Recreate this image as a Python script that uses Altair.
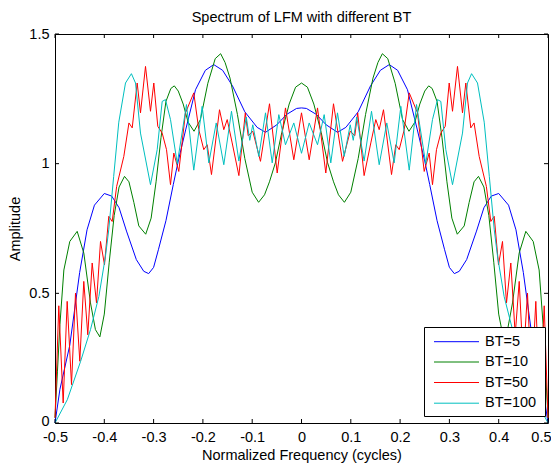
import altair as alt
import pandas as pd

# ---------------- data ----------------
series_names = ["BT=5", "BT=10", "BT=50", "BT=100"]
series_colors = ["#0000ff", "#008000", "#ff0000", "#00bfbf"]

bt5_x = [-0.5, -0.49, -0.47, -0.45, -0.435, -0.42, -0.40, -0.385, -0.37, -0.355, -0.335, -0.32, -0.31,
         -0.30, -0.29, -0.275, -0.26, -0.25, -0.235, -0.215, -0.195, -0.178, -0.16, -0.14, -0.115, -0.09,
         -0.073, -0.05, -0.03, -0.01, 0.0,
         0.01, 0.03, 0.05, 0.073, 0.09, 0.115, 0.14, 0.16, 0.178, 0.195, 0.215, 0.235, 0.25, 0.26, 0.275,
         0.29, 0.30, 0.31, 0.32, 0.335, 0.355, 0.37, 0.385, 0.40, 0.42, 0.435, 0.45, 0.47, 0.49, 0.5]
bt5_y = [0.0, 0.13, 0.30, 0.58, 0.745, 0.84, 0.885, 0.875, 0.83, 0.74, 0.63, 0.585, 0.576,
         0.60, 0.67, 0.78, 0.92, 1.01, 1.13, 1.285, 1.36, 1.382, 1.36, 1.30, 1.20, 1.14,
         1.121, 1.15, 1.19, 1.213, 1.215,
         1.213, 1.19, 1.15, 1.121, 1.14, 1.20, 1.30, 1.36, 1.382, 1.36, 1.285, 1.13, 1.01, 0.92, 0.78,
         0.67, 0.60, 0.576, 0.585, 0.63, 0.74, 0.83, 0.875, 0.885, 0.84, 0.745, 0.58, 0.30, 0.13, 0.0]

bt10_x = [-0.5, -0.495, -0.49, -0.482, -0.47, -0.455, -0.4415, -0.428, -0.418, -0.409, -0.40, -0.39,
          -0.38, -0.37, -0.359, -0.35, -0.34, -0.33, -0.316, -0.305, -0.295, -0.285, -0.275, -0.265,
          -0.258, -0.25, -0.24, -0.23, -0.218, -0.205, -0.19, -0.175, -0.164, -0.155, -0.145, -0.13,
          -0.115, -0.10, -0.087, -0.075, -0.065, -0.053, -0.04, -0.025, -0.012, 0.0,
          0.012, 0.025, 0.04, 0.053, 0.065, 0.075, 0.087, 0.10, 0.115, 0.13, 0.145, 0.155, 0.164,
          0.175, 0.19, 0.205, 0.218, 0.23, 0.24, 0.25, 0.258, 0.265, 0.275, 0.285, 0.295, 0.305,
          0.316, 0.33, 0.34, 0.35, 0.359, 0.37, 0.38, 0.39, 0.40, 0.409, 0.418, 0.428, 0.4415, 0.455,
          0.47, 0.482, 0.49, 0.495, 0.5]
bt10_y = [0.02, 0.2, 0.38, 0.59, 0.70, 0.739, 0.655, 0.463, 0.36, 0.332, 0.42, 0.62,
          0.80, 0.91, 0.951, 0.93, 0.85, 0.76, 0.728, 0.79, 0.93, 1.10, 1.24, 1.29,
          1.30, 1.28, 1.23, 1.16, 1.125, 1.17, 1.31, 1.405, 1.424, 1.39, 1.33, 1.19,
          1.02, 0.89, 0.851, 0.88, 0.93, 1.003, 1.12, 1.23, 1.295, 1.311,
          1.295, 1.23, 1.12, 1.003, 0.93, 0.88, 0.851, 0.89, 1.02, 1.19, 1.33, 1.39, 1.424,
          1.405, 1.31, 1.17, 1.125, 1.16, 1.23, 1.28, 1.30, 1.29, 1.24, 1.10, 0.93, 0.79,
          0.728, 0.76, 0.85, 0.93, 0.951, 0.91, 0.80, 0.62, 0.42, 0.332, 0.36, 0.463, 0.655, 0.739,
          0.70, 0.59, 0.38, 0.2, 0.02]

bt50_x = [-0.5, -0.4923, -0.4834, -0.4753, -0.4665, -0.4584, -0.4497, -0.4416, -0.4335, -0.4246,
          -0.4158, -0.4077, -0.3996, -0.3909, -0.384, -0.375, -0.3604, -0.350, -0.3434, -0.3333,
          -0.3266, -0.3164, -0.3063, -0.2996, -0.2915, -0.2826, -0.2738, -0.2657, -0.259, -0.2489,
          -0.2353, -0.2185, -0.2083, -0.1982, -0.1913, -0.1826, -0.1663, -0.1576, -0.1507, -0.1406,
          -0.127, -0.114, -0.1082, -0.0988, -0.0832, -0.0649, -0.0493, -0.0325, -0.0156, 0.0,
          0.0156, 0.0325, 0.0493, 0.0649, 0.0832, 0.0988, 0.1082, 0.114, 0.127, 0.1406, 0.1507,
          0.1576, 0.1663, 0.1826, 0.1913, 0.1982, 0.2083, 0.2185, 0.2353, 0.2489, 0.259, 0.2657,
          0.2738, 0.2826, 0.2915, 0.2996, 0.3063, 0.3164, 0.3266, 0.3333, 0.3434, 0.350, 0.3604,
          0.375, 0.384, 0.3909, 0.3996, 0.4077, 0.4158, 0.4246, 0.4335, 0.4416, 0.4497, 0.4584,
          0.4665, 0.4753, 0.4834, 0.4923, 0.5]
bt50_y = [0.02, 0.452, 0.077, 0.469, 0.148, 0.501, 0.238, 0.546, 0.34, 0.617,
          0.463, 0.70, 0.61, 0.797, 0.777, 0.912, 1.028, 1.157, 1.138, 1.311,
          1.196, 1.375, 1.202, 1.311, 1.144, 1.118, 1.054, 0.919, 1.041, 0.97,
          1.196, 1.273, 1.131, 1.054, 1.073, 0.958, 1.208, 1.131, 1.17, 1.08,
          0.954, 1.196, 1.108, 1.125, 1.009, 1.231, 0.964, 1.215, 1.015, 1.196,
          1.015, 1.215, 0.964, 1.231, 1.009, 1.125, 1.108, 1.196, 0.954, 1.08, 1.17,
          1.131, 1.208, 0.958, 1.073, 1.054, 1.131, 1.273, 1.196, 0.97, 1.041, 0.919,
          1.054, 1.118, 1.144, 1.311, 1.202, 1.375, 1.196, 1.311, 1.138, 1.157, 1.028,
          0.912, 0.777, 0.797, 0.61, 0.70, 0.463, 0.617, 0.34, 0.546, 0.238, 0.501,
          0.148, 0.469, 0.077, 0.452, 0.02]

bt100_x = [-0.5, -0.475, -0.448, -0.428, -0.411, -0.3976, -0.391, -0.381, -0.3706, -0.357, -0.345,
           -0.3367, -0.3266, -0.3063, -0.2927, -0.2826, -0.2759, -0.2657, -0.252, -0.2333, -0.2185,
           -0.2015, -0.188, -0.173, -0.1576, -0.142, -0.127, -0.112, -0.105, -0.0988, -0.0866,
           -0.073, -0.0594, -0.046, -0.0325, -0.0156, 0.0,
           0.0156, 0.0325, 0.046, 0.0594, 0.073, 0.0866, 0.0988, 0.105, 0.112, 0.127, 0.142, 0.1576,
           0.173, 0.188, 0.2015, 0.2185, 0.2333, 0.252, 0.2657, 0.2759, 0.2826, 0.2927, 0.3063,
           0.3266, 0.3367, 0.345, 0.357, 0.3706, 0.381, 0.391, 0.3976, 0.411, 0.428, 0.448, 0.475, 0.5]
bt100_y = [0.0, 0.09, 0.238, 0.36, 0.488, 0.643, 0.745, 0.95, 1.16, 1.311, 1.347,
           1.311, 1.118, 0.919, 1.054, 1.24, 1.247, 1.17, 1.0, 1.228, 0.975,
           1.221, 1.003, 1.157, 0.996, 1.202, 1.01, 1.18, 1.09, 1.15, 1.028,
           1.196, 1.003, 1.189, 1.073, 1.157, 1.04,
           1.157, 1.073, 1.189, 1.003, 1.196, 1.028, 1.15, 1.09, 1.18, 1.01, 1.202, 0.996,
           1.157, 1.003, 1.221, 0.975, 1.228, 1.0, 1.17, 1.247, 1.24, 1.054, 0.919,
           1.118, 1.311, 1.347, 1.311, 1.16, 0.95, 0.745, 0.643, 0.488, 0.36, 0.238, 0.09, 0.0]

x_ticks = [-0.5, -0.4, -0.3, -0.2, -0.1, 0.0, 0.1, 0.2, 0.3, 0.4, 0.5]
y_ticks = [0, 0.5, 1, 1.5]

# ---------------- build table ----------------
rows = []
for name, xs, ys in [("BT=5", bt5_x, bt5_y), ("BT=10", bt10_x, bt10_y),
                     ("BT=50", bt50_x, bt50_y), ("BT=100", bt100_x, bt100_y)]:
    assert len(xs) == len(ys), name
    for i, (xv, yv) in enumerate(zip(xs, ys)):
        rows.append({"series": name, "freq": xv, "amp": yv, "i": i})
df = pd.DataFrame(rows)

W, H = 493, 389
FONT = "Liberation Sans"
FS = 14.5
xscale = alt.Scale(domain=[-0.5, 0.5], nice=False, zero=False)
yscale = alt.Scale(domain=[0, 1.5], nice=False, zero=False)

label_fix = "replace(datum.label, '\u2212', '-')"
x_axis = alt.Axis(values=x_ticks, title="Normalized Frequency (cycles)", format="~g",
                  labelExpr=label_fix, labelFlush=False,
                  labelAlign={"condition": {"test": "datum.value > 0.45", "value": "right"},
                              "value": "center"},
                  labelOffset={"condition": {"test": "datum.value > 0.45", "value": 3},
                               "value": 0},
                  labelOverlap=False, labelPadding=7, titlePadding=4.5)
y_axis = alt.Axis(values=y_ticks, title="Amplitude", format="~g", labelExpr=label_fix,
                  labelOffset={"condition": {"test": "datum.value < 0.1", "value": -2},
                               "value": 0},
                  labelPadding=6, titlePadding=6, labelOverlap=False)

lines = alt.Chart(df).mark_line(strokeWidth=1).encode(
    x=alt.X("freq:Q", scale=xscale, axis=x_axis),
    y=alt.Y("amp:Q", scale=yscale, axis=y_axis),
    color=alt.Color("series:N",
                    scale=alt.Scale(domain=series_names, range=series_colors),
                    sort=series_names, legend=None),
    order="i:Q",
)

xt = pd.DataFrame({"freq": x_ticks})
yt = pd.DataFrame({"amp": y_ticks})
tick_len = 4
bottom_ticks = alt.Chart(xt).mark_rule(color="black", strokeWidth=1).encode(
    x=alt.X("freq:Q", scale=xscale, axis=x_axis), y=alt.value(H), y2=alt.value(H - tick_len))
top_ticks = alt.Chart(xt).mark_rule(color="black", strokeWidth=1).encode(
    x=alt.X("freq:Q", scale=xscale, axis=x_axis), y=alt.value(0), y2=alt.value(tick_len))
left_ticks = alt.Chart(yt).mark_rule(color="black", strokeWidth=1).encode(
    y=alt.Y("amp:Q", scale=yscale, axis=y_axis), x=alt.value(0), x2=alt.value(tick_len))
right_ticks = alt.Chart(yt).mark_rule(color="black", strokeWidth=1).encode(
    y=alt.Y("amp:Q", scale=yscale, axis=y_axis), x=alt.value(W), x2=alt.value(W - tick_len))

# ---------------- legend box (bottom-right, MATLAB style) ----------------
LX0, LX1, LY0, LY1 = 369.5, 490.5, 293.5, 382.5
row_y = [307.7, 328.0, 348.5, 369.2]
legend_layers = [
    alt.Chart(pd.DataFrame({"k": [0]})).mark_rect(fill="white", stroke="black", strokeWidth=1).encode(
        x=alt.value(LX0), x2=alt.value(LX1), y=alt.value(LY0), y2=alt.value(LY1))
]
for name, col, ry in zip(series_names, series_colors, row_y):
    one = pd.DataFrame({"series": [name]})
    legend_layers.append(
        alt.Chart(one).mark_rule(color=col, strokeWidth=1).encode(
            x=alt.value(379), x2=alt.value(424), y=alt.value(ry)))
    legend_layers.append(
        alt.Chart(one).mark_text(align="left", baseline="middle", font=FONT, fontSize=FS,
                                 color="black").encode(
            text="series:N", x=alt.value(430), y=alt.value(ry)))

chart = alt.layer(lines, bottom_ticks, top_ticks, left_ticks, right_ticks,
                  *legend_layers).properties(
    width=W, height=H,
    title=alt.Title("Spectrum of LFM with different BT", font=FONT, fontSize=FS,
                    fontWeight="normal", color="black", offset=1, anchor="middle"),
    autosize=alt.AutoSizeParams(type="none"),
    padding={"left": 47, "top": 26, "right": 3, "bottom": 45},
    background="white",
).configure_view(stroke="black", strokeWidth=1).configure_axis(
    domain=False, ticks=False, tickSize=0, grid=False,
    labelFont=FONT, labelFontSize=FS, labelColor="black",
    titleFont=FONT, titleFontSize=FS, titleFontWeight="normal", titleColor="black",
)

chart.save("out.html", embed_options={"renderer": "svg", "actions": False})
